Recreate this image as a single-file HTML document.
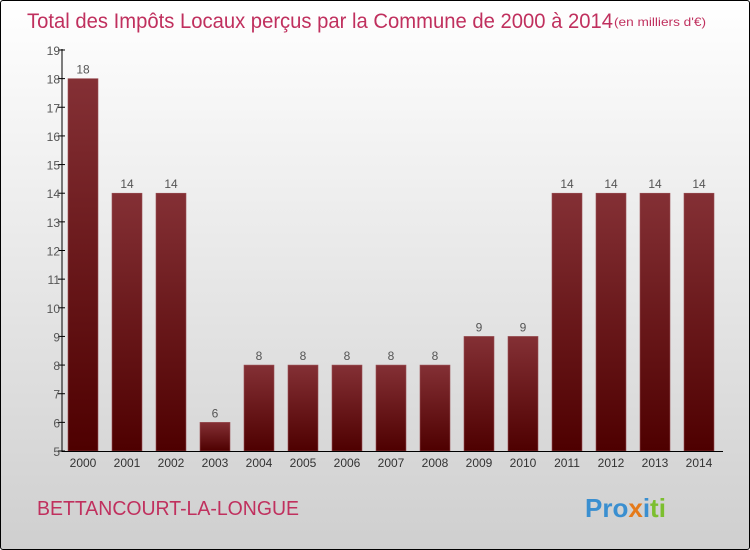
<!DOCTYPE html>
<html><head><meta charset="utf-8"><style>
body{margin:0}
#c{position:relative;width:750px;height:550px;box-sizing:border-box;border:1px solid #000;border-radius:3px;overflow:hidden;background:linear-gradient(#ffffff,#cfcfcf);font-family:"Liberation Sans",sans-serif}
</style></head><body>
<div id="c">
<svg id="s" width="750" height="550" style="position:absolute;left:0;top:0">
<defs><linearGradient id="g" x1="0" y1="0" x2="0" y2="1"><stop offset="0" stop-color="#843035"/><stop offset="1" stop-color="#4e0000"/></linearGradient></defs>
<text x="26" y="27" font-size="21" fill="#c0305e" textLength="586" lengthAdjust="spacingAndGlyphs">Total des Impôts Locaux perçus par la Commune de 2000 à 2014</text>
<text x="613" y="25" font-size="12" fill="#c0305e" textLength="92" lengthAdjust="spacingAndGlyphs">(en milliers d'€)</text>
<text x="36" y="514" font-size="20" fill="#c0305e" textLength="262" lengthAdjust="spacingAndGlyphs">BETTANCOURT-LA-LONGUE</text>
<text x="584" y="516" font-size="26" font-weight="bold"><tspan fill="#3a8fd0">Pro</tspan><tspan fill="#e57a1a">x</tspan><tspan fill="#3a8fd0">i</tspan><tspan fill="#7cbf2f">ti</tspan></text>
</svg>
</div>
<script>
const categories=["2000","2001","2002","2003","2004","2005","2006","2007","2008","2009","2010","2011","2012","2013","2014"];
const values=[18,14,14,6,8,8,8,8,8,9,9,14,14,14,14];
const yTicks=[5,6,7,8,9,10,11,12,13,14,15,16,17,18,19];
const s=document.getElementById('s'),NS="http://www.w3.org/2000/svg";
const y=v=>450-(v-5)*(401/14);
const x=i=>82+i*44;
function mk(t,a){const e=document.createElementNS(NS,t);for(const k in a)e.setAttribute(k,a[k]);s.appendChild(e);return e;}
yTicks.forEach(v=>{
 const l=mk('line',{x1:57,x2:64,y1:y(v),y2:y(v),stroke:'#000'});
 
 
 const t=mk('text',{x:59,y:y(v)+5,'text-anchor':'end','font-size':12,fill:'#555'});t.textContent=v;
 
 
});
categories.forEach((c,i)=>{
 const r=mk('rect',{x:x(i)-15,y:y(values[i]),width:30,height:450-y(values[i]),fill:'url(#g)',stroke:'#9a5055','stroke-width':0.6});
 
 
 const v=mk('text',{x:x(i),y:y(values[i])-5,'text-anchor':'middle','font-size':12,fill:'#555'});v.textContent=values[i];
 
 
 const t=mk('text',{x:x(i),y:466,'text-anchor':'middle','font-size':12,fill:'#333'});t.textContent=c;
 
 
});
const ya=mk('line',{x1:61,x2:61,y1:48,y2:451,stroke:'#000'});


const xa=mk('line',{x1:61,x2:722,y1:450.5,y2:450.5,stroke:'#000'});


</script>
</body></html>
